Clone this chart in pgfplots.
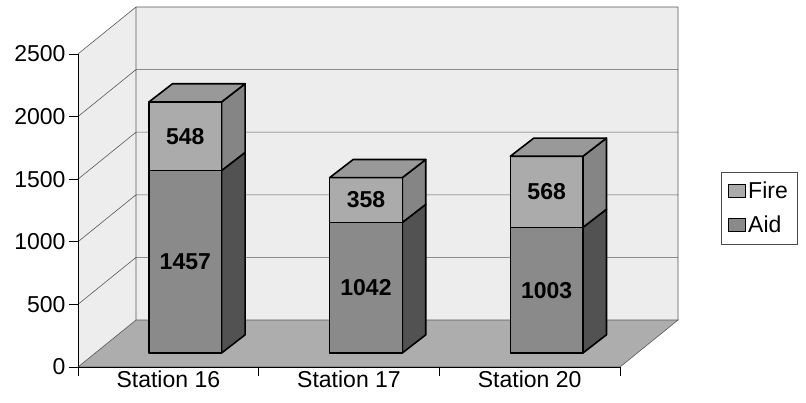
\documentclass[border=0pt]{standalone}
\usepackage{pgfplots}
\pgfplotsset{compat=1.18}
\usepackage{fontspec}
\setmainfont{Liberation Sans}
\definecolor{wall}{gray}{0.93}
\definecolor{floorc}{gray}{0.68}
\definecolor{firefront}{gray}{0.67}
\definecolor{aidfront}{gray}{0.54}
\definecolor{firesidec}{gray}{0.52}
\definecolor{aidside}{gray}{0.32}
\definecolor{topc}{gray}{0.60}
\definecolor{gridc}{gray}{0.35}
\newcommand{\bigfont}{\fontsize{23bp}{27bp}\selectfont}
\begin{document}
\begin{tikzpicture}
\begin{axis}[
  scale only axis, width=600bp, height=360bp,
  xmin=-0.5, xmax=2.821, ymin=0, ymax=2875,
  clip=false,
  axis x line*=bottom, axis y line*=left,
  axis line style={draw=none},
  xtick={-0.5,0.5,1.5,2.5}, xticklabels={},
  extra x ticks={0,1,2},
  extra x tick labels={Station 16,Station 17,Station 20},
  extra x tick style={major tick length=0pt},
  ytick={0,500,1000,1500,2000,2500},
  tick align=outside,
  major tick length=9bp,
  tick style={black, line width=0.6bp},
  tick label style={font=\bigfont},
  /pgf/number format/1000 sep={},
  /pgf/number format/assume math mode=true,
  unbounded coords=jump,
  legend style={at={(1.0717,0.5417)}, anchor=north west, draw=black!70,
    font=\bigfont, row sep=12bp, inner xsep=7bp, inner ysep=8bp},
  legend cell align=left,
  legend image code/.code={\draw[#1,draw=black,line width=1bp] (0bp,-6.5bp) rectangle (17bp,6.5bp);},
  nodes near coords align={center},
]
% walls
\addplot[forget plot, fill=wall, draw=none] coordinates {(-0.5,0) (-0.179,375) (-0.179,2875) (-0.5,2500)} --cycle;
\addplot[forget plot, fill=wall, draw=none] coordinates {(-0.179,375) (2.821,375) (2.821,2875) (-0.179,2875)} --cycle;
% floor
\addplot[forget plot, fill=floorc, draw=gridc, line width=0.6bp] coordinates {(-0.5,0) (2.5,0) (2.821,375) (-0.179,375)} --cycle;
% grid lines
\addplot[forget plot, draw=gridc, line width=0.6bp] coordinates {
  (-0.179,875) (2.821,875) (nan,nan)
  (-0.179,1375) (2.821,1375) (nan,nan)
  (-0.179,1875) (2.821,1875) (nan,nan)
  (-0.179,2375) (2.821,2375) (nan,nan)
  (-0.179,2875) (2.821,2875) (nan,nan)
  (-0.179,375) (-0.179,2875) (nan,nan)
  (2.821,375) (2.821,2875) (nan,nan)
  (-0.5,500) (-0.179,875) (nan,nan)
  (-0.5,1000) (-0.179,1375) (nan,nan)
  (-0.5,1500) (-0.179,1875) (nan,nan)
  (-0.5,2000) (-0.179,2375) (nan,nan)
  (-0.5,2500) (-0.179,2875)
};
\addplot[forget plot, draw=black, line width=0.7bp] coordinates {(-0.5,2500) (-0.5,0) (2.5,0)};
% ---- bars (style) ----
\pgfplotsset{barface/.style={forget plot, draw=black, line width=1.6bp, line join=round}}
% Station 16: Aid 1457, Fire 548
\addplot[barface, fill=aidside] coordinates {(0.295,112) (0.425,257) (0.425,1714) (0.295,1569)} --cycle;
\addplot[barface, fill=firesidec] coordinates {(0.295,1569) (0.425,1714) (0.425,2262) (0.295,2117)} --cycle;
\addplot[barface, fill=aidfront] coordinates {(-0.107,112) (0.295,112) (0.295,1569) (-0.107,1569)} --cycle;
\addplot[barface, fill=firefront] coordinates {(-0.107,1569) (0.295,1569) (0.295,2117) (-0.107,2117)} --cycle;
\addplot[barface, fill=topc] coordinates {(-0.107,2117) (0.295,2117) (0.425,2262) (0.023,2262)} --cycle;
% Station 17: Aid 1042, Fire 358
\addplot[barface, fill=aidside] coordinates {(1.295,112) (1.425,257) (1.425,1299) (1.295,1154)} --cycle;
\addplot[barface, fill=firesidec] coordinates {(1.295,1154) (1.425,1299) (1.425,1657) (1.295,1512)} --cycle;
\addplot[barface, fill=aidfront] coordinates {(0.893,112) (1.295,112) (1.295,1154) (0.893,1154)} --cycle;
\addplot[barface, fill=firefront] coordinates {(0.893,1154) (1.295,1154) (1.295,1512) (0.893,1512)} --cycle;
\addplot[barface, fill=topc] coordinates {(0.893,1512) (1.295,1512) (1.425,1657) (1.023,1657)} --cycle;
% Station 20: Aid 1003, Fire 568
\addplot[barface, fill=aidside] coordinates {(2.295,112) (2.425,257) (2.425,1260) (2.295,1115)} --cycle;
\addplot[barface, fill=firesidec] coordinates {(2.295,1115) (2.425,1260) (2.425,1828) (2.295,1683)} --cycle;
\addplot[barface, fill=aidfront] coordinates {(1.893,112) (2.295,112) (2.295,1115) (1.893,1115)} --cycle;
\addplot[barface, fill=firefront] coordinates {(1.893,1115) (2.295,1115) (2.295,1683) (1.893,1683)} --cycle;
\addplot[barface, fill=topc] coordinates {(1.893,1683) (2.295,1683) (2.425,1828) (2.023,1828)} --cycle;
% value labels
\addplot[forget plot, only marks, mark=none, point meta=explicit symbolic,
  nodes near coords, every node near coord/.append style={font=\bigfont\bfseries, anchor=center}]
  coordinates {(0.094,840.5)[1457] (0.094,1843)[548] (1.094,633)[1042] (1.094,1333)[358] (2.094,613.5)[1003] (2.094,1399)[568]};
% legend
\addlegendimage{fill=firefront}
\addlegendentry{Fire}
\addlegendimage{fill=aidfront}
\addlegendentry{Aid}
% bounding box
\path (rel axis cs:-0.13,-0.1) rectangle (rel axis cs:1.2133,1.0194);
\end{axis}
\end{tikzpicture}
\end{document}
